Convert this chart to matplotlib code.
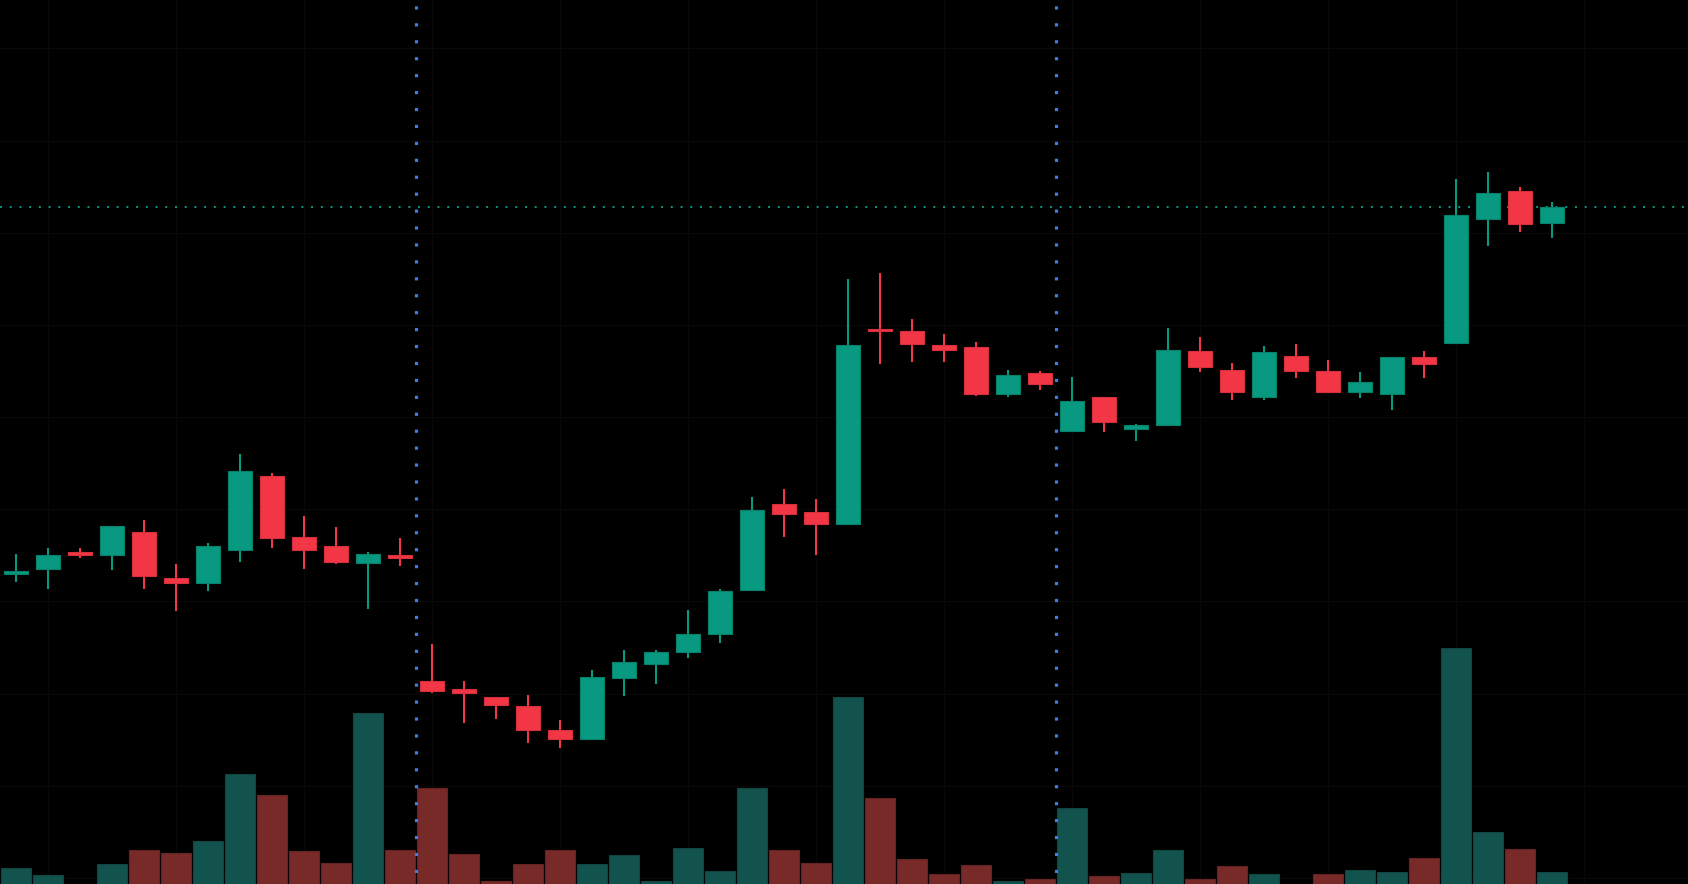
import numpy as np
import matplotlib.pyplot as plt

# OHLC (arbitrary price units)
opens = [42.6, 43.1, 44.8, 44.5, 46.8, 42.2, 41.7, 45.0, 52.4, 46.3, 45.4, 43.7, 44.5,
         31.9, 31.1, 30.3, 29.4, 27.0, 26.1, 32.2, 33.6, 34.8, 36.6, 41.0, 49.6, 48.8,
         47.6, 67.0, 66.9, 65.5, 65.3, 60.6, 62.7,
         56.9, 60.3, 57.1, 57.5, 64.9, 63.0, 60.3, 64.4, 62.9, 60.8, 60.6, 64.3,
         65.7, 78.1, 80.9, 77.7]
highs = [44.6, 45.2, 45.2, 47.4, 48.0, 43.6, 45.7, 54.6, 52.7, 48.4, 47.3, 44.8, 46.2,
         35.6, 31.9, 30.3, 30.5, 28.0, 33.0, 35.0, 35.0, 39.0, 41.1, 50.3, 51.1, 50.1,
         72.1, 72.7, 68.1, 66.6, 65.8, 63.0, 62.9,
         62.3, 60.3, 57.6, 67.2, 66.3, 63.7, 65.4, 65.6, 64.0, 62.8, 64.3, 64.9,
         82.1, 82.8, 81.3, 79.8]
lows = [41.8, 41.1, 44.2, 43.0, 41.1, 38.9, 40.9, 43.8, 45.2, 43.1, 43.6, 39.1, 43.4,
        30.7, 27.7, 28.1, 25.7, 25.2, 26.1, 30.4, 31.6, 34.2, 35.7, 41.0, 46.3, 44.5,
        47.6, 63.6, 63.8, 63.8, 60.4, 60.3, 61.0,
        56.9, 56.8, 55.9, 57.5, 62.8, 60.0, 60.0, 62.2, 60.8, 60.2, 59.0, 62.2,
        65.7, 75.4, 76.8, 76.2]
closes = [42.9, 44.5, 44.5, 47.4, 42.4, 41.7, 45.4, 52.9, 46.2, 45.0, 43.8, 44.6, 44.2,
          30.9, 30.7, 29.5, 27.0, 26.1, 32.3, 33.8, 34.8, 36.6, 40.9, 49.0, 48.6, 47.6,
          65.5, 66.9, 65.6, 65.0, 60.6, 62.5, 61.6,
          59.9, 57.8, 57.5, 65.0, 63.3, 60.8, 64.8, 62.9, 60.8, 61.8, 64.3, 63.6,
          78.5, 80.7, 77.6, 79.3]
volumes = [157, 93, 0, 203, 337, 307, 427, 1097, 887, 327, 207, 1713, 337,
           963, 297, 33, 197, 337, 197, 287, 33, 357, 127, 957, 337, 207,
           1867, 857, 247, 97, 187, 33, 47,
           763, 77, 107, 337, 47, 177, 97, 0, 97, 137, 117, 257,
           2357, 517, 347, 117]
# session breaks sit between bars 12/13 and 32/33
session_breaks = [12.5, 32.5]

up_col, down_col = "#089981", "#f23645"
vol_up, vol_down = "#13534d", "#782a28"

o = np.array(opens)
c = np.array(closes)
h = np.array(highs)
l = np.array(lows)
x = np.arange(len(o))
up = c >= o

fig = plt.figure(figsize=(16.88, 8.84), dpi=100, facecolor="black")
ax = fig.add_axes([0, 0, 1, 1], facecolor="black")
axv = fig.add_axes([0, 0, 1, 1], facecolor="none", sharex=ax)

# price pane: faint grid, last price line, candles
ax.set_xlim(-0.5, 52.25)
ax.set_ylim(11.6, 100)
ax.set_xticks(np.arange(1, 53, 4))
ax.set_yticks(np.arange(95.17, 10, -9.22))
ax.grid(color="#080808", linewidth=1)
ax.set_axisbelow(True)

ax.axhline(c[-1], color="#089981", linewidth=1.4, linestyle=(0, (1, 4)), zorder=1)

cols = np.where(up, up_col, down_col)
ax.vlines(x, l, h, colors=cols, linewidth=1.5, zorder=3)
body_bottom = np.minimum(o, c)
body_h = np.maximum(np.abs(c - o), 0.2)
ax.bar(x, body_h, bottom=body_bottom, width=0.75, color=cols,
       edgecolor=np.where(up, "#07806c", "#d62f3d"), linewidth=0.8, zorder=4)

# volume overlay
axv.bar(x, volumes, width=0.93, color=np.where(up, vol_up, vol_down),
        edgecolor=np.where(up, "#10463f", "#652322"), linewidth=0.8)
axv.set_ylim(0, 8840)
axv.set_yticks([])

# session separators
for b in session_breaks:
    axv.axvline(b, color="#3f7ee0", linewidth=2.3, linestyle=(1.7, (1, 4.3)), zorder=5)

for a in (ax, axv):
    a.tick_params(length=0, labelbottom=False, labelleft=False)
    for s in a.spines.values():
        s.set_visible(False)

fig.savefig("out.png", dpi=100, facecolor="black")
